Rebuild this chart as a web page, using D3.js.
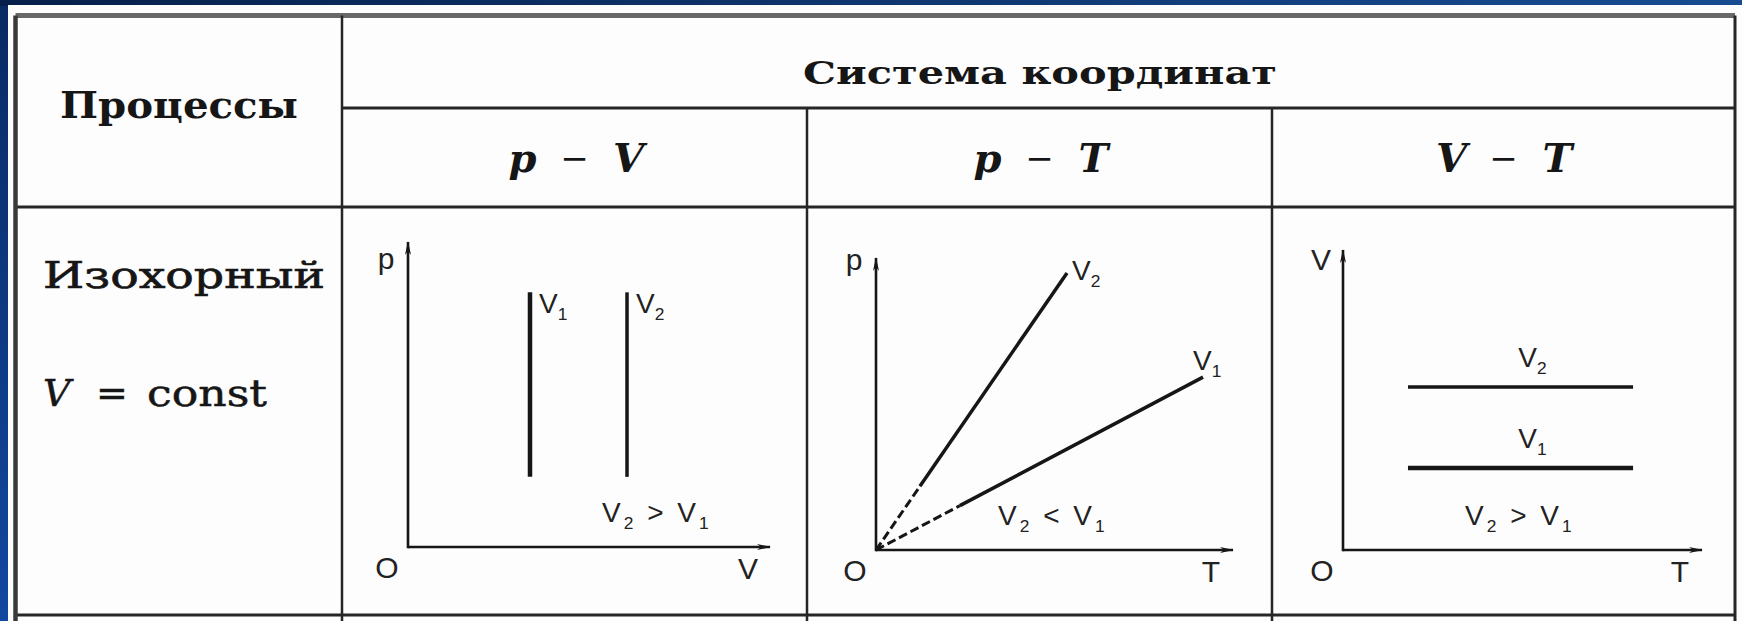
<!DOCTYPE html>
<html>
<head>
<meta charset="utf-8">
<script src="https://cdn.jsdelivr.net/npm/d3@7"></script>
<style>
  html, body { margin: 0; padding: 0; background: #fff; }
  svg { display: block; }
</style>
</head>
<body>
<script>
/*****************************************************************
 *  Isochoric process table: p–V, p–T and V–T diagrams
 *****************************************************************/

/* ---- data ------------------------------------------------------ */
const cornerTitle   = "Процессы";
const headerTitle   = "Система координат";
const columnTitles  = [["p", "V"], ["p", "T"], ["V", "T"]];
const processName   = "Изохорный";
const processLaw    = ["V", "=", "const"];
const axisNames     = [["p", "V"], ["p", "T"], ["V", "T"]];
const volumeIds     = ["1", "2"];

// p–V : vertical isochores
const pvVolumes     = [3.37, 6.05];
const pvPressure    = [2.3, 8.35];
// p–T : straight lines through the origin, dashed near zero
const ptEndT        = [9.16, 5.35];
const ptEndP        = [5.92, 9.49];
const ptDashEndT    = [2.35, 1.23];
// V–T : horizontal isochores
const vtVolumes     = [2.73, 5.43];
const vtTemps       = [1.81, 8.08];
// "V2 > V1" notes
const relationSigns = [">", "<", ">"];
const relationAt    = [[5.36, 0.82], [3.42, 0.86], [3.4, 0.83]];

/* ---- layout ---------------------------------------------------- */
const W = 1742, H = 621;
const ink   = "#161616";
const serif = "'DejaVu Serif', 'Liberation Serif', serif";
const sans  = "'Liberation Sans', Arial, sans-serif";

const table = { left: 15.5, right: 1735, top: 15.5, bottom: 615, head1: 108, head2: 207 };
const colX  = [342, 807, 1272];
const frames = [
  { x: [408, 770],  y: [547, 242], yLab: 269 },
  { x: [876, 1233], y: [550, 258], yLab: 270 },
  { x: [1343, 1702], y: [550, 250], yLab: 270 }
];

const svg = d3.select("body").append("svg")
  .attr("width", W).attr("height", H);

const defs = svg.append("defs");

/* ---- slide background ----------------------------------------- */
const gTop = defs.append("linearGradient").attr("id", "bgTop")
  .attr("x1", 0).attr("y1", 0).attr("x2", 1).attr("y2", 0);
gTop.append("stop").attr("offset", 0).attr("stop-color", "#061f4a");
gTop.append("stop").attr("offset", 1).attr("stop-color", "#174c92");

const gLeft = defs.append("linearGradient").attr("id", "bgLeft")
  .attr("x1", 0).attr("y1", 0).attr("x2", 0).attr("y2", 1);
gLeft.append("stop").attr("offset", 0).attr("stop-color", "#082a62");
gLeft.append("stop").attr("offset", 1).attr("stop-color", "#1348a0");

svg.append("rect").attr("width", W).attr("height", H).attr("fill", "url(#bgLeft)");
svg.append("rect").attr("width", W).attr("height", 6).attr("fill", "url(#bgTop)");
svg.append("rect").attr("x", 8).attr("y", 5).attr("width", W - 8).attr("height", H - 5)
  .attr("fill", "#fdfdfd");

/* ---- arrow marker ---------------------------------------------- */
defs.append("marker").attr("id", "arrow")
  .attr("viewBox", "0 0 14 8").attr("refX", 13).attr("refY", 4)
  .attr("markerWidth", 14).attr("markerHeight", 8)
  .attr("markerUnits", "userSpaceOnUse").attr("orient", "auto")
  .append("path").attr("d", "M0,1 L14,4 L0,7 L4,4 Z").attr("fill", ink);

/* ---- table grid ------------------------------------------------ */
const grid = svg.append("g").attr("stroke", "#262626").attr("fill", "none");

grid.append("line")               // heavy top edge
  .attr("x1", table.left).attr("x2", table.right)
  .attr("y1", table.top).attr("y2", table.top)
  .attr("stroke", "#686868").attr("stroke-width", 5);

[table.head2, table.bottom].forEach(y =>
  grid.append("line")
    .attr("x1", table.left).attr("x2", table.right)
    .attr("y1", y).attr("y2", y).attr("stroke-width", 3));

grid.append("line")
  .attr("x1", colX[0]).attr("x2", table.right)
  .attr("y1", table.head1).attr("y2", table.head1).attr("stroke-width", 3);

grid.append("line")
  .attr("x1", table.left).attr("x2", table.left)
  .attr("y1", table.top).attr("y2", H)
  .attr("stroke", "#3a3a3a").attr("stroke-width", 4.5);
grid.append("line")
  .attr("x1", table.right).attr("x2", table.right)
  .attr("y1", table.top).attr("y2", H).attr("stroke-width", 3);

colX.forEach((x, i) =>
  grid.append("line")
    .attr("x1", x).attr("x2", x)
    .attr("y1", i === 0 ? table.top : table.head1).attr("y2", H)
    .attr("stroke-width", 2.5));

/* ---- header texts ---------------------------------------------- */
svg.append("text")
  .attr("x", 60).attr("y", 118)
  .attr("font-family", serif).attr("font-weight", "bold").attr("font-size", 38)
  .attr("textLength", 238).attr("lengthAdjust", "spacingAndGlyphs")
  .attr("fill", ink).text(cornerTitle);

svg.append("text")
  .attr("x", 803).attr("y", 84)
  .attr("font-family", serif).attr("font-weight", "bold").attr("font-size", 32)
  .attr("textLength", 474).attr("lengthAdjust", "spacingAndGlyphs")
  .attr("fill", ink).text(headerTitle);

const colEdges = [colX[0], colX[1], colX[2], table.right];
columnTitles.forEach(([a, b], i) => {
  const cx = (colEdges[i] + colEdges[i + 1]) / 2;
  const g = svg.append("g")
    .attr("font-family", serif).attr("font-weight", "bold").attr("font-size", 40)
    .attr("fill", ink).attr("text-anchor", "middle");
  g.append("text").attr("x", cx - 52).attr("y", 172).attr("font-style", "italic").text(a);
  g.append("text").attr("x", cx).attr("y", 170).attr("font-weight", "normal")
    .attr("font-size", 34).text("−");
  g.append("text").attr("x", cx + 54).attr("y", 172).attr("font-style", "italic").text(b);
});

/* ---- process name ---------------------------------------------- */
svg.append("text")
  .attr("x", 43).attr("y", 288)
  .attr("font-family", serif).attr("font-size", 38)
  .attr("stroke", ink).attr("stroke-width", 0.7)
  .attr("textLength", 282).attr("lengthAdjust", "spacingAndGlyphs")
  .attr("fill", ink).text(processName);

const law = svg.append("g").attr("font-family", serif).attr("font-size", 38)
  .attr("fill", ink).attr("stroke", ink).attr("stroke-width", 0.5);
law.append("text").attr("x", 43).attr("y", 406).attr("font-style", "italic").text(processLaw[0]);
law.append("text").attr("x", 112).attr("y", 406).attr("text-anchor", "middle").text(processLaw[1]);
law.append("text").attr("x", 147).attr("y", 406)
  .attr("textLength", 120).attr("lengthAdjust", "spacingAndGlyphs").text(processLaw[2]);

/* ---- helpers --------------------------------------------------- */
function richText(g, x, y, parts, { size = 28, anchor = "start", spacing = 0 } = {}) {
  const t = g.append("text")
    .attr("x", x).attr("y", y)
    .attr("font-family", sans).attr("font-size", size)
    .attr("text-anchor", anchor).attr("letter-spacing", spacing)
    .attr("fill", "#222");
  let shift = 0;
  parts.forEach(([s, sub]) => {
    const target = sub ? 7 : 0;
    t.append("tspan")
      .attr("dy", target - shift)
      .attr("font-size", sub ? size * 0.62 : size)
      .text(s);
    shift = target;
  });
  return t;
}

function panel(i) {
  const f = frames[i];
  const x = d3.scaleLinear([0, 10], f.x);
  const y = d3.scaleLinear([0, 10], f.y);
  const g = svg.append("g");

  // axes
  g.append("line")
    .attr("x1", x(0)).attr("y1", y(0)).attr("x2", x(10)).attr("y2", y(0))
    .attr("stroke", ink).attr("stroke-width", 2.6).attr("marker-end", "url(#arrow)");
  g.append("line")
    .attr("x1", x(0)).attr("y1", y(0) + 1.3).attr("x2", x(0)).attr("y2", y(10))
    .attr("stroke", ink).attr("stroke-width", 2.6).attr("marker-end", "url(#arrow)");

  richText(g, x(0) - 22, f.yLab, [[axisNames[i][0]]], { anchor: "middle", size: 30 });
  richText(g, x(0) - 21, y(0) + 31, [["O"]], { anchor: "middle", size: 30 });
  richText(g, x(10) - 22, y(0) + 32, [[axisNames[i][1]]], { anchor: "middle", size: 30 });

  const [rx, ry] = relationAt[i];
  richText(g, x(rx), y(ry),
    [["V"], ["2", true], [` ${relationSigns[i]} `], ["V"], ["1", true]],
    { spacing: 3 });

  return { g, x, y };
}

/* ---- p–V ------------------------------------------------------- */
{
  const { g, x, y } = panel(0);
  g.selectAll("line.iso").data(pvVolumes).join("line")
    .attr("class", "iso")
    .attr("x1", d => x(d)).attr("x2", d => x(d))
    .attr("y1", y(pvPressure[0])).attr("y2", y(pvPressure[1]))
    .attr("stroke", ink).attr("stroke-width", (d, k) => k === 0 ? 4.5 : 3.5);
  pvVolumes.forEach((v, k) =>
    richText(g, x(v) + 9, y(pvPressure[1]) + 21, [["V"], [volumeIds[k], true]]));
}

/* ---- p–T ------------------------------------------------------- */
{
  const { g, x, y } = panel(1);
  ptEndT.forEach((t, k) => {
    const slope = ptEndP[k] / t;
    const tDash = ptDashEndT[k];
    g.append("line")
      .attr("x1", x(0)).attr("y1", y(0)).attr("x2", x(tDash)).attr("y2", y(tDash * slope))
      .attr("stroke", ink).attr("stroke-width", 3).attr("stroke-dasharray", "9,4");
    g.append("line")
      .attr("x1", x(tDash)).attr("y1", y(tDash * slope)).attr("x2", x(t)).attr("y2", y(ptEndP[k]))
      .attr("stroke", ink).attr("stroke-width", 3.5);
  });
  richText(g, x(ptEndT[0]) - 10, y(ptEndP[0]) - 7, [["V"], [volumeIds[0], true]]);
  richText(g, x(ptEndT[1]) + 5, y(ptEndP[1]) + 7, [["V"], [volumeIds[1], true]]);
}

/* ---- V–T ------------------------------------------------------- */
{
  const { g, x, y } = panel(2);
  g.selectAll("line.iso").data(vtVolumes).join("line")
    .attr("class", "iso")
    .attr("x1", x(vtTemps[0])).attr("x2", x(vtTemps[1]))
    .attr("y1", d => y(d)).attr("y2", d => y(d))
    .attr("stroke", ink).attr("stroke-width", (d, k) => k === 0 ? 4.5 : 3.5);
  const mid = x((vtTemps[0] + vtTemps[1]) / 2);
  vtVolumes.forEach((v, k) =>
    richText(g, mid + 12, y(v) - 20, [["V"], [volumeIds[k], true]], { anchor: "middle" }));
}
</script>
</body>
</html>
